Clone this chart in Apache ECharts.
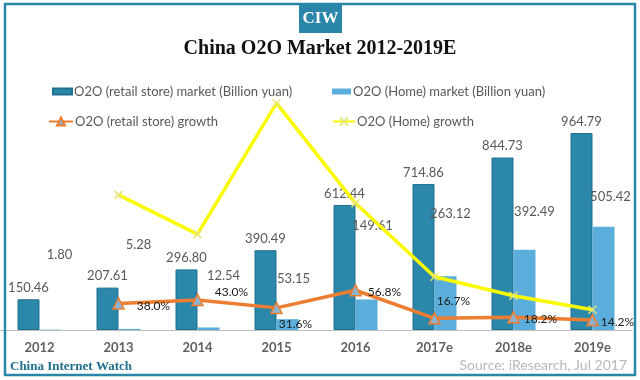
<!DOCTYPE html>
<html><head><meta charset="utf-8">
<script src="https://cdn.jsdelivr.net/npm/echarts@6/dist/echarts.min.js"></script>
<style>html,body{margin:0;padding:0;background:#fff;}#c{width:640px;height:380px;}</style>
</head><body><div id="c"></div>
<script>
// ---- data ----
var categories = ['2012','2013','2014','2015','2016','2017e','2018e','2019e'];
var retailMarket = [150.46, 207.61, 296.80, 390.49, 612.44, 714.86, 844.73, 964.79];
var homeMarket = [1.80, 5.28, 12.54, 53.15, 149.61, 263.12, 392.49, 505.42];
var retailGrowth = [null, 38.0, 43.0, 31.6, 56.8, 16.7, 18.2, 14.2];
var homeGrowth = [null, 193, 137, 324, 181, 76, 49, 29];
var seriesNames = ['O2O (retail store) market (Billion yuan)', 'O2O (Home) market (Billion yuan)',
                   'O2O (retail store) growth', 'O2O (Home) growth'];

// ---- style ----
var FONT = 'Lato';
var homeLabelShift = [[9,-63],[9,-73],[15,-40],[6,-29],[6,-62],[5,-51],[10,-27],[7,-18]];
var growthLabelShift = [[0,0],[12,3],[11,-8],[-4,16],[6,2],[-4,-17],[4,2],[2,2]];

var chart = echarts.init(document.getElementById('c'), null, {renderer:'canvas'});

var homeData = homeMarket.map(function(v,i){
  return {value:v, label:{offset:homeLabelShift[i]}};
});
var rgData = retailGrowth.map(function(v,i){
  return {value:v, label:{offset:growthLabelShift[i]}};
});

var xSym = 'path://M0,0L10,10M10,0L0,10';

function legend(name, left, top, icon, w, h){
  return {
    data:[{name:name, icon:icon}], left:left, top:top, itemWidth:w, itemHeight:h,
    itemGap:0, padding:0,
    textStyle:{fontFamily:FONT, fontSize:13, color:'#595959', padding:[0,0,0,-3]},
    selectedMode:false
  };
}

var option = {
  animation:false,
  backgroundColor:'#fff',
  title:{text:'China O2O Market 2012-2019E', left:'center', top:34,
    textStyle:{fontFamily:'Liberation Serif', fontWeight:'bold', fontSize:20, color:'#111'}},
  legend:[
    legend(seriesNames[0], 52, 85, 'rect', 19, 6),
    legend(seriesNames[1], 332, 85, 'rect', 19, 6),
    legend(seriesNames[2], 48, 115, undefined, 24, 10),
    legend(seriesNames[3], 332, 115, undefined, 22, 10)
  ],
  grid:{left:0, right:8, top:85, bottom:50, containLabel:false},
  xAxis:{type:'category', data:categories,
    axisLine:{lineStyle:{color:'#bfbfbf', width:1}}, axisTick:{show:false},
    axisLabel:{fontFamily:FONT, fontSize:13, fontWeight:'bold', color:'#606060', margin:11}},
  yAxis:[
    {type:'value', min:0, max:1200, show:false, splitLine:{show:false}},
    {type:'value', min:0, max:350, show:false, splitLine:{show:false}}
  ],
  series:[
    {name:seriesNames[0], type:'bar', data:retailMarket, barWidth:22, barGap:'0%', z:2,
      itemStyle:{color:'#2b88aa', borderColor:'#1f6f8d', borderWidth:1},
      label:{show:true, position:'top', distance:5, fontFamily:FONT, fontSize:13, color:'#595959',
        formatter:function(p){return p.value.toFixed(2);}}},
    {name:seriesNames[1], type:'bar', data:homeData, barWidth:22, barGap:'0%', z:2,
      itemStyle:{color:'#5baedb'},
      label:{show:true, position:'top', distance:5, fontFamily:FONT, fontSize:13, color:'#595959',
        formatter:function(p){return p.value.toFixed(2);}}},
    {name:seriesNames[2], type:'line', yAxisIndex:1, data:rgData, z:4,
      symbol:'triangle', symbolSize:11,
      lineStyle:{color:'#ed7d31', width:3.5},
      itemStyle:{color:'#8fb3cf', borderColor:'#ed7d31', borderWidth:1.5},
      label:{show:true, position:'right', distance:0, fontFamily:FONT, fontSize:12, color:'#1a1a1a',
        formatter:function(p){return p.value.toFixed(1)+'%';}}},
    {name:seriesNames[3], type:'line', yAxisIndex:1, data:homeGrowth, z:5,
      symbol:xSym, symbolSize:8,
      lineStyle:{color:'#fbfb00', width:3.5},
      itemStyle:{color:'#f4f48a', borderColor:'#e6e67a', borderWidth:1.5}}
  ],
  graphic:[
    {type:'rect', shape:{x:5, y:4, width:630, height:371}, style:{fill:'none', stroke:'#2a86a9', lineWidth:2.5}, z:100},
    {type:'rect', shape:{x:299, y:4, width:43, height:29}, style:{fill:'#2a86a9'}, z:101},
    {type:'text', x:320.5, y:19, style:{text:'CIW', fill:'#fff', font:'bold 17px "Liberation Serif"', align:'center', verticalAlign:'middle'}, z:102},
    {type:'text', x:10, y:367, style:{text:'China Internet Watch', fill:'#1f6e8c', font:'bold 13px "Liberation Serif"', align:'left', verticalAlign:'middle'}, z:102},
    {type:'text', x:627, y:365, style:{text:'Source: iResearch, Jul 2017', fill:'#b8b8b8', font:'14px Lato', align:'right', verticalAlign:'middle'}, z:102}
  ]
};
chart.setOption(option);
</script></body></html>
